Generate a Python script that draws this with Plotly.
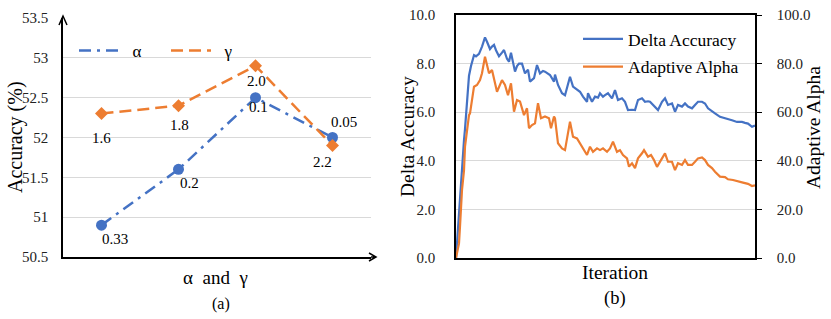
import plotly.graph_objects as go

# ---------------- data: panel (a) ----------------
cats = ["c1", "c2", "c3", "c4"]
alpha_acc = [50.9, 51.6, 52.5, 52.0]
gamma_acc = [52.3, 52.4, 52.9, 51.9]
alpha_labels = ["0.33", "0.2", "0.1", "0.05"]
gamma_labels = ["1.6", "1.8", "2.0", "2.2"]
left_ticks = [50.5, 51, 51.5, 52, 52.5, 53, 53.5]
left_ticktext = ["50.5", "51", "51.5", "52", "52.5", "53", "53.5"]

# ---------------- data: panel (b) ----------------
delta_iter = [0, 4, 6, 8, 9, 11, 13, 15, 18, 20, 23, 26, 29, 31, 34, 36, 38, 40, 43, 46,
              48, 51, 53, 55, 57, 59, 61, 63, 66, 69, 72, 74, 78, 81, 84, 87, 89, 92, 94, 98,
              99, 102, 106, 109, 112, 114, 117, 121, 124, 127, 131, 132, 136, 139, 142, 144, 147, 149, 152, 156,
              159, 162, 166, 169, 172, 176, 179, 182, 186, 189, 192, 194, 197, 201, 202, 206, 209, 212, 216, 219,
              222, 226, 229, 232, 236, 239, 242, 246, 249, 252, 256, 259, 264, 269, 272, 276, 281, 286, 289, 292,
              296, 299]
delta_acc = [0, 2.5, 3.9, 4.85, 5.3, 6.6, 7.5, 7.9, 8.35, 8.3, 8.4, 8.7, 9.08, 8.9, 8.6, 8.7, 8.77, 8.55, 8.3, 8.45,
             8.56, 8.2, 8.08, 8.45, 8.1, 7.67, 7.9, 8.0, 8.0, 7.6, 7.75, 7.26, 7.4, 7.94, 7.6, 7.7, 7.67, 7.6, 7.53, 7.26,
             7.55, 7.12, 6.78, 6.7, 7.1, 7.46, 7.05, 6.91, 6.84, 6.64, 6.43, 6.78, 6.43, 6.64, 6.6, 6.78, 6.64, 6.7, 6.78, 6.57,
             6.91, 6.5, 6.57, 6.43, 6.09, 6.1, 6.09, 6.5, 6.57, 6.43, 6.45, 6.43, 6.3, 6.16, 6.09, 6.43, 6.57, 6.3, 6.36, 6.02,
             6.3, 6.23, 6.36, 6.23, 6.16, 6.3, 6.43, 6.43, 6.36, 6.16, 6.02, 5.95, 5.81, 5.76, 5.7, 5.67, 5.6, 5.6, 5.56, 5.53,
             5.4, 5.45]
alpha_iter = [0, 3, 4, 6, 8, 9, 13, 14, 18, 21, 24, 26, 29, 33, 36, 41, 46, 49, 52, 55,
              58, 61, 64, 68, 71, 73, 76, 79, 82, 85, 89, 93, 95, 98, 99, 102, 106, 109, 114, 117,
              121, 124, 127, 131, 134, 137, 141, 144, 147, 151, 154, 157, 161, 164, 167, 171, 173, 176, 179, 182,
              186, 188, 192, 195, 198, 201, 206, 209, 212, 216, 219, 222, 226, 229, 232, 236, 239, 242, 246, 249,
              252, 256, 259, 264, 269, 272, 277, 282, 287, 292, 296, 299]
adaptive_alpha = [0, 6, 13, 28, 36, 45.8, 58.8, 59.5, 70.5, 71.2, 73.2, 76, 82.8, 76, 77.4, 68.4, 73.2, 71.2, 67, 71.9,
                  60.2, 65, 64.4, 58.8, 61.6, 53.4, 54.7, 55.4, 63.7, 57.5, 58.2, 57.5, 53.4, 58.2, 57.5, 47.2, 45.1, 44.4, 56.1, 49.9,
                  49.2, 47.2, 45.1, 42.4, 45.8, 43.7, 45.1, 44.4, 45.1, 43.7, 45.1, 47.9, 43.7, 44.4, 42.4, 41, 37.6, 39, 37, 41,
                  43.1, 44.4, 41.7, 42.4, 40.3, 37.5, 41, 43.1, 39.6, 39.6, 36.2, 39, 38.3, 40.3, 38.3, 38.3, 39.6, 41, 41.4, 40.3,
                  38.3, 37, 35.5, 33.5, 33.3, 32.4, 32.1, 31.4, 31, 30.5, 29.6, 29.9]
delta_ticks = [0, 2, 4, 6, 8, 10]
alpha_ticks = [0, 20, 40, 60, 80, 100]

BLUE = "#4472C4"
ORANGE = "#ED7D31"
GRID = "#d9d9d9"
FONT = "Liberation Serif"

W, H = 831, 319
def px_x(p):
    return p / W
def px_y(p):
    return 1 - p / H

fig = go.Figure()

# panel (a)
fig.add_trace(go.Scatter(
    x=cats, y=alpha_acc, mode="lines+markers",
    line=dict(color=BLUE, width=2.5, dash="12px,6px,3px,6px"),
    marker=dict(symbol="circle", size=11, color=BLUE),
    showlegend=False, xaxis="x", yaxis="y", cliponaxis=False))
fig.add_trace(go.Scatter(
    x=cats, y=gamma_acc, mode="lines+markers",
    line=dict(color=ORANGE, width=2.5, dash="12px,6px"),
    marker=dict(symbol="diamond", size=10, color=ORANGE),
    showlegend=False, xaxis="x", yaxis="y", cliponaxis=False))
# legend entries for panel (a) (lines only)
fig.add_trace(go.Scatter(x=[None], y=[None], mode="lines", name="\u00a0\u00a0α",
                         line=dict(color=BLUE, width=2.5, dash="12px,6px,3px,6px"),
                         legend="legend", xaxis="x", yaxis="y"))
fig.add_trace(go.Scatter(x=[None], y=[None], mode="lines", name="\u00a0\u00a0γ",
                         line=dict(color=ORANGE, width=2.5, dash="12px,6px"),
                         legend="legend", xaxis="x", yaxis="y"))

# panel (b)
fig.add_trace(go.Scatter(x=delta_iter, y=delta_acc, mode="lines", name="Delta Accuracy",
                         line=dict(color=BLUE, width=2.2), xaxis="x2", yaxis="y2",
                         legend="legend2", legendgroup="g1"))
fig.add_trace(go.Scatter(x=alpha_iter, y=adaptive_alpha, mode="lines", name="Adaptive Alpha",
                         line=dict(color=ORANGE, width=2.2), xaxis="x2", yaxis="y3",
                         legend="legend2", legendgroup="g2"))

tickfont = dict(family=FONT, size=15, color="#222")

fig.update_layout(
    width=W, height=H,
    margin=dict(l=0, r=0, t=0, b=0, pad=0, autoexpand=False),
    paper_bgcolor="white", plot_bgcolor="white",
    font=dict(family=FONT, color="black"),
    xaxis=dict(domain=[px_x(63), px_x(371)], range=[-0.5, 3.5], type="category",
               showticklabels=False, showgrid=False, showline=True, linecolor="black",
               linewidth=1.5, ticks="", zeroline=False, automargin=False),
    yaxis=dict(domain=[px_y(257), px_y(18)], range=[50.5, 53.5], tickvals=left_ticks,
               ticktext=left_ticktext, showgrid=True, gridcolor=GRID, gridwidth=1,
               showline=True, linecolor="black", linewidth=1.5, ticks="",
               ticklabelstandoff=10, tickfont=tickfont, zeroline=False, automargin=False),
    xaxis2=dict(domain=[px_x(456), px_x(755)], range=[0, 299], anchor="y2",
                showticklabels=False, showgrid=False, showline=True, mirror=True,
                linecolor="black", linewidth=1.5, ticks="", zeroline=False, automargin=False),
    yaxis2=dict(domain=[px_y(258), px_y(15)], range=[0, 10], anchor="x2",
                tickvals=delta_ticks, tickformat=".1f", showgrid=True, gridcolor=GRID,
                showline=True, linecolor="black", linewidth=1.5, ticks="",
                ticklabelstandoff=16, tickfont=tickfont, zeroline=False, automargin=False),
    yaxis3=dict(range=[0, 100], overlaying="y2", side="right", anchor="x2",
                tickvals=alpha_ticks, tickformat=".1f", showgrid=False,
                showline=True, linecolor="black", linewidth=1.5, ticks="outside",
                ticklen=5, tickcolor="black", ticklabelstandoff=12, tickfont=tickfont,
                zeroline=False, automargin=False),
    legend=dict(orientation="h", x=px_x(74), y=px_y(33), xanchor="left", yanchor="top",
                bgcolor="rgba(0,0,0,0)", font=dict(family=FONT, size=17),
                itemwidth=40, entrywidth=37, entrywidthmode="pixels", tracegroupgap=0),
    legend2=dict(orientation="v", x=px_x(578), y=px_y(21), xanchor="left", yanchor="top",
                 bgcolor="rgba(0,0,0,0)", font=dict(family=FONT, size=17.5),
                 itemwidth=40, tracegroupgap=2),
)

ann = []
ann.append(dict(text="Accuracy (%)", x=px_x(15), y=px_y(137), textangle=-90,
                font=dict(family=FONT, size=20)))
ann.append(dict(text="α  and  γ", x=px_x(216), y=px_y(277), font=dict(family=FONT, size=19)))
ann.append(dict(text="(a)", x=px_x(221), y=px_y(304), font=dict(family=FONT, size=16)))
ann.append(dict(text="Delta Accuracy", x=px_x(407), y=px_y(137), textangle=-90,
                font=dict(family=FONT, size=19.5)))
ann.append(dict(text="Adaptive Alpha", x=px_x(813), y=px_y(128), textangle=-90,
                font=dict(family=FONT, size=19.5)))
ann.append(dict(text="Iteration", x=px_x(615), y=px_y(272), font=dict(family=FONT, size=19.5)))
ann.append(dict(text="(b)", x=px_x(615), y=px_y(298), font=dict(family=FONT, size=18.5)))
for a in ann:
    a.update(xref="paper", yref="paper", showarrow=False, xanchor="center", yanchor="middle")

# data labels for panel (a): offsets in pixels relative to each point
alpha_off = [(13, -14), (11, -14), (3, -9), (11, 16)]
gamma_off = [(0, -24), (1, -19), (1, -15), (-10, -17)]
for c, v, t, (dx, dy) in zip(cats, alpha_acc, alpha_labels, alpha_off):
    ann.append(dict(text=t, x=c, y=v, xref="x", yref="y", showarrow=False,
                    xshift=dx, yshift=dy, font=dict(family=FONT, size=15, color="black")))
for c, v, t, (dx, dy) in zip(cats, gamma_acc, gamma_labels, gamma_off):
    ann.append(dict(text=t, x=c, y=v, xref="x", yref="y", showarrow=False,
                    xshift=dx, yshift=dy, font=dict(family=FONT, size=15, color="black")))
fig.update_layout(annotations=ann)

# axis arrows for panel (a)
fig.add_shape(type="path", xref="paper", yref="paper", xsizemode="pixel", ysizemode="pixel",
              xanchor=px_x(63), yanchor=px_y(18), path="M -4,-7 L 0,2 L 4,-7 M 0,0 L 0,2",
              line=dict(color="black", width=1.5))
fig.add_shape(type="path", xref="paper", yref="paper", xsizemode="pixel", ysizemode="pixel",
              xanchor=px_x(371), yanchor=px_y(257), path="M 0,0 L 5,0 M -2,4 L 5,0 L -2,-4",
              line=dict(color="black", width=1.5))

fig.write_html("out.html", config={"displayModeBar": False},
               post_script="document.body.style.margin='0px';document.body.style.padding='0px';")
